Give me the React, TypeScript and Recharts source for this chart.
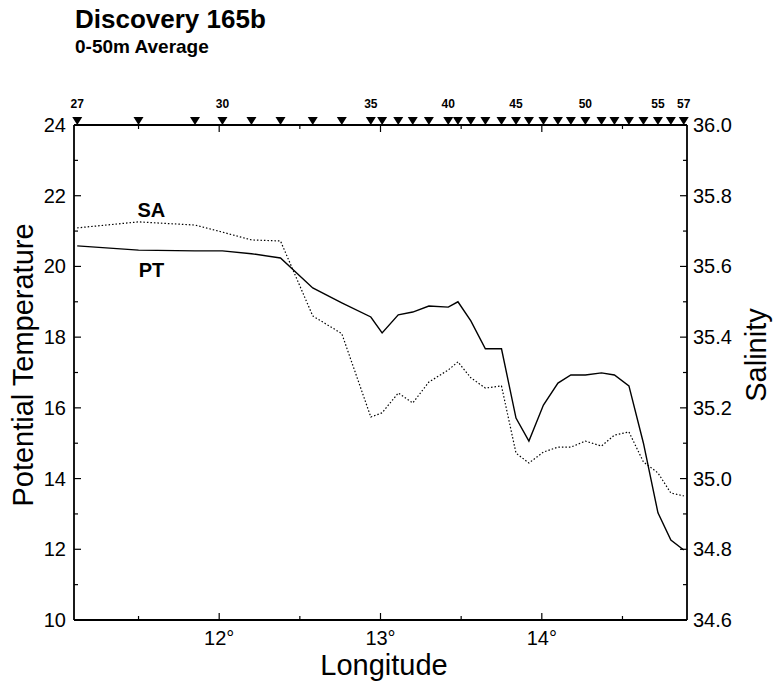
import React from 'react';
import { ComposedChart, Line, XAxis, YAxis, ReferenceDot } from 'recharts';

// station numbers along the section and where they sit (deg E)
const stations = [27, 28, 29, 30, 31, 32, 33, 34, 35, 36, 37, 38, 39, 40, 41, 42, 43, 44, 45, 46, 47, 48, 49, 50, 51, 52, 53, 54, 55, 56, 57];
const longitudes = [11.12, 11.5, 11.85, 12.02, 12.2, 12.38, 12.58, 12.76, 12.94, 13.01, 13.11, 13.2, 13.3, 13.42, 13.48, 13.56, 13.65, 13.75, 13.84, 13.92, 14.01, 14.1, 14.18, 14.27, 14.37, 14.45, 14.54, 14.63, 14.72, 14.8, 14.88];
const stationLabels = [27, 30, 35, 40, 45, 50, 55, 57];

// 0-50m averages
const temperature = [20.58, 20.46, 20.44, 20.44, 20.36, 20.24, 19.39, 18.97, 18.57, 18.12, 18.63, 18.71, 18.88, 18.85, 19.0, 18.46, 17.67, 17.67, 15.71, 15.06, 16.08, 16.7, 16.93, 16.93, 16.99, 16.93, 16.62, 15.0, 13.03, 12.26, 11.98];
const salinity = [35.709, 35.726, 35.717, 35.697, 35.675, 35.672, 35.46, 35.41, 35.174, 35.186, 35.242, 35.214, 35.273, 35.307, 35.33, 35.285, 35.256, 35.262, 35.072, 35.044, 35.075, 35.089, 35.089, 35.106, 35.092, 35.123, 35.132, 35.047, 35.016, 34.959, 34.951];

const lonTicks = [11.5, 12, 12.5, 13, 13.5, 14, 14.5];
const lonLabels = [12, 13, 14];
const ptTicks = [10, 11, 12, 13, 14, 15, 16, 17, 18, 19, 20, 21, 22, 23, 24];
const saTicks = [34.6, 34.7, 34.8, 34.9, 35.0, 35.1, 35.2, 35.3, 35.4, 35.5, 35.6, 35.7, 35.8, 35.9, 36.0];

const font = '"Liberation Sans", Arial, Helvetica, sans-serif';
const PLOT_TOP = 125;

const data = stations.map((s, i) => ({
  station: s,
  lon: longitudes[i],
  pt: temperature[i],
  sa: salinity[i],
}));

const StationTick = (props: any) => {
  const { x, y, payload } = props;
  const st = stations[longitudes.indexOf(payload.value)];
  return (
    <g>
      <polygon points={`${x - 5},${y - 8} ${x + 5},${y - 8} ${x},${y}`} fill="#000" />
      {stationLabels.includes(st) && (
        <text x={x} y={y - 17} textAnchor="middle" fontSize={12} fontWeight="bold" fontFamily={font} fill="#000">
          {st}
        </text>
      )}
    </g>
  );
};

const LonTick = (props: any) => {
  const { x, y, payload } = props;
  const v = payload.value;
  const major = lonLabels.includes(v);
  const len = major ? 7 : 4;
  return (
    <g>
      <line x1={x} y1={y} x2={x} y2={y - len} stroke="#000" strokeWidth={1.2} />
      <line x1={x} y1={PLOT_TOP} x2={x} y2={PLOT_TOP + len} stroke="#000" strokeWidth={1.2} />
      {major && (
        <text x={x} y={y + 25} textAnchor="middle" fontSize={20} fontFamily={font} fill="#000">
          {`${v}°`}
        </text>
      )}
    </g>
  );
};

const PtTick = (props: any) => {
  const { x, y, payload } = props;
  const v = payload.value;
  const major = v % 2 === 0;
  return (
    <g>
      <line x1={x} y1={y} x2={x + (major ? 7 : 4)} y2={y} stroke="#000" strokeWidth={1.2} />
      {major && (
        <text x={x - 8} y={y} dy="0.35em" textAnchor="end" fontSize={20} fontFamily={font} fill="#000">
          {v}
        </text>
      )}
    </g>
  );
};

const SaTick = (props: any) => {
  const { x, y, payload } = props;
  const v = payload.value;
  const major = Math.round(v * 10) % 2 === 0;
  return (
    <g>
      <line x1={x} y1={y} x2={x - (major ? 7 : 4)} y2={y} stroke="#000" strokeWidth={1.2} />
      {major && (
        <text x={x + 6} y={y} dy="0.35em" textAnchor="start" fontSize={20} fontFamily={font} fill="#000">
          {v.toFixed(1)}
        </text>
      )}
    </g>
  );
};

const vertTitle = (text: string, x: number, y: number) => () => (
  <text x={x} y={y} transform={`rotate(-90 ${x} ${y})`} textAnchor="middle" fontSize={29} fontFamily={font} fill="#000">
    {text}
  </text>
);

const seriesLabel = (text: string) => (p: any) => (
  <text x={p.cx} y={p.cy} textAnchor="middle" dominantBaseline="central" fontSize={20} fontWeight="bold" fontFamily={font} fill="#000">
    {text}
  </text>
);

const axisLine = { stroke: '#000', strokeWidth: 1.8 };

export default function App() {
  return (
    <div style={{ position: 'absolute', left: 0, top: 0, width: 775, height: 685, background: '#fff', fontFamily: font }}>
      <div style={{ position: 'absolute', left: 75, top: 6, fontSize: 26, lineHeight: 1, fontWeight: 'bold' }}>Discovery 165b</div>
      <div style={{ position: 'absolute', left: 75, top: 37, fontSize: 19, lineHeight: 1, fontWeight: 'bold' }}>0-50m Average</div>
      <ComposedChart width={775} height={685} data={data} margin={{ top: 95, right: 28, bottom: 35, left: 14 }}>
        <XAxis
          xAxisId="st"
          orientation="top"
          dataKey="lon"
          type="number"
          domain={[11.1, 14.9]}
          allowDataOverflow
          ticks={longitudes}
          interval={0}
          height={30}
          tickLine={false}
          tickSize={0}
          tickMargin={0}
          axisLine={axisLine}
          tick={<StationTick />}
        />
        <XAxis
          xAxisId="lon"
          dataKey="lon"
          type="number"
          domain={[11.1, 14.9]}
          allowDataOverflow
          ticks={lonTicks}
          interval={0}
          height={30}
          tickLine={false}
          tickSize={0}
          tickMargin={0}
          axisLine={axisLine}
          tick={<LonTick />}
          label={{ content: () => (
            <text x={384} y={675} textAnchor="middle" fontSize={29} fontFamily={font} fill="#000">Longitude</text>
          ) }}
        />
        <YAxis
          yAxisId="pt"
          domain={[10, 24]}
          allowDataOverflow
          ticks={ptTicks}
          interval={0}
          width={60}
          tickLine={false}
          tickSize={0}
          tickMargin={0}
          axisLine={axisLine}
          tick={<PtTick />}
          label={{ content: vertTitle('Potential Temperature', 33, 365) }}
        />
        <YAxis
          yAxisId="sa"
          orientation="right"
          domain={[34.6, 36.0]}
          allowDataOverflow
          ticks={saTicks}
          interval={0}
          width={60}
          tickLine={false}
          tickSize={0}
          tickMargin={0}
          axisLine={axisLine}
          tick={<SaTick />}
          label={{ content: vertTitle('Salinity', 766, 355) }}
        />
        <Line
          xAxisId="lon"
          yAxisId="sa"
          dataKey="sa"
          type="linear"
          stroke="#000"
          strokeWidth={1.2}
          strokeDasharray="1.5 2"
          dot={false}
          isAnimationActive={false}
        />
        <Line
          xAxisId="lon"
          yAxisId="pt"
          dataKey="pt"
          type="linear"
          stroke="#000"
          strokeWidth={1.4}
          dot={false}
          isAnimationActive={false}
        />
        <ReferenceDot xAxisId="lon" yAxisId="pt" x={11.58} y={21.6} r={0} shape={seriesLabel('SA')} />
        <ReferenceDot xAxisId="lon" yAxisId="pt" x={11.58} y={19.9} r={0} shape={seriesLabel('PT')} />
      </ComposedChart>
    </div>
  );
}
